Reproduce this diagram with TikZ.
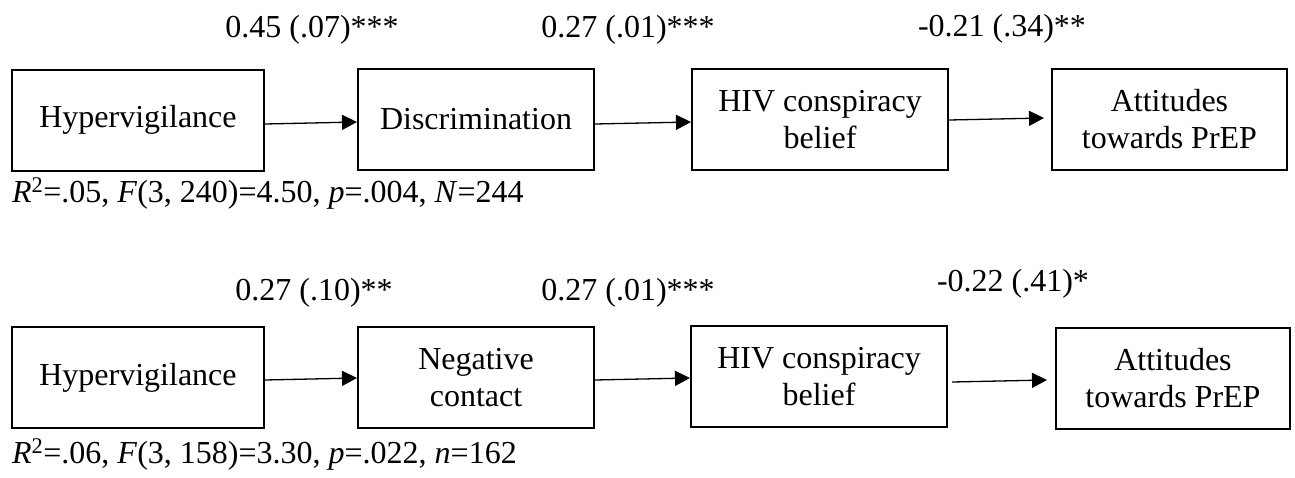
\documentclass[tikz,border=0pt]{standalone}
\usepackage{fontspec}
\setmainfont{Liberation Serif}
\usetikzlibrary{arrows.meta}
\begin{document}
\begin{tikzpicture}[x=1pt,y=-1pt,
  vbox/.style={draw=black,line width=2pt,align=center,inner sep=0pt,minimum height=101pt,
    font=\fontsize{32}{37}\selectfont},
  arr/.style={line width=1.3pt,-{Triangle[length=15pt,width=15pt]}},
  coef/.style={anchor=base,inner sep=0pt,font=\fontsize{32}{37}\selectfont},
  stat/.style={anchor=base west,inner sep=0pt,font=\fontsize{32}{37}\selectfont}]
\useasboundingbox (0,0) rectangle (1295,477);
% top row
\node[vbox,minimum width=252pt] (b1) at (138,120) {Hypervigilance};
\node[vbox,minimum width=236pt] (b2) at (476,119.5) {Discrimination};
\node[vbox,minimum width=256pt] (b3) at (820,119.5) {HIV conspiracy\\belief};
\node[vbox,minimum width=235pt] (b4) at (1169.5,119.5) {Attitudes\\towards PrEP};
\draw[arr] ([yshift=-4pt]b1.east) -- ([yshift=-2.5pt]b2.west);
\draw[arr] ([yshift=-4.5pt]b2.east) -- ([yshift=-2.5pt]b3.west);
\draw[arr] ([yshift=-0.5pt]b3.east) -- ([xshift=-7pt,yshift=1.5pt]b4.west);
\node[coef] (l1) at (312,37) {0.45 (.07)***};
\node[coef] (l2) at (628,37) {0.27 (.01)***};
\node[coef] (l3) at (1002,36) {-0.21 (.34)**};
\node[stat] (s1) at (12,202) {\textit{R}\textsuperscript{2}=.05, \textit{F}(3, 240)=4.50, \textit{p}=.004, \textit{N}=244};
% bottom row
\node[vbox,minimum width=252pt] (c1) at (138,377.5) {Hypervigilance};
\node[vbox,minimum width=236pt] (c2) at (476,377.5) {Negative\\contact};
\node[vbox,minimum width=256pt] (c3) at (819,376.5) {HIV conspiracy\\belief};
\node[vbox,minimum width=234pt] (c4) at (1173,378.5) {Attitudes\\towards PrEP};
\draw[arr] ([yshift=-2.5pt]c1.east) -- ([yshift=-0.5pt]c2.west);
\draw[arr] ([yshift=-2.5pt]c2.east) -- ([yshift=-1.5pt]c3.west);
\draw[arr] ([xshift=4pt,yshift=-5.5pt]c3.east) -- ([xshift=-8pt,yshift=-1.5pt]c4.west);
\node[coef] (m1) at (314,300) {0.27 (.10)**};
\node[coef] (m2) at (628,300) {0.27 (.01)***};
\node[coef] (m3) at (1013,291) {-0.22 (.41)*};
\node[stat] (s2) at (12,463) {\textit{R}\textsuperscript{2}=.06, \textit{F}(3, 158)=3.30, \textit{p}=.022, \textit{n}=162};
\end{tikzpicture}
\end{document}
